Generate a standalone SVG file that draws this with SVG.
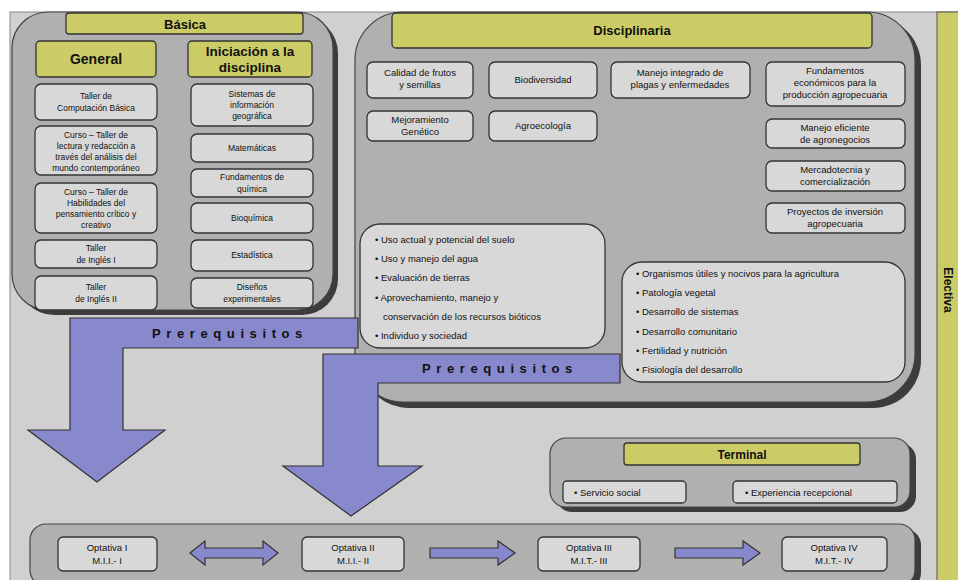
<svg xmlns="http://www.w3.org/2000/svg" width="958" height="580" viewBox="0 0 958 580">
<style>
text{font-family:"Liberation Sans",Arial,sans-serif;fill:#111;}
.panel{fill:#b0b0b0;stroke:#444;stroke-width:1.2;}
.shadow{fill:#3c3c3c;}
.hdr{fill:#cccc66;stroke:#333;stroke-width:1.3;}
.item{fill:#d8d8d8;stroke:#333;stroke-width:1.3;}
.t{font-size:9.5px;text-anchor:middle;}
.ts{font-size:8.5px;text-anchor:middle;}
.l{font-size:9.5px;}
.h{font-weight:bold;text-anchor:middle;}
.arrow{fill:#8888cc;stroke:#333;stroke-width:1.2;}
.pre{font-size:13px;font-weight:bold;letter-spacing:5.6px;text-anchor:middle;fill:#111;}
</style>
<rect x="0" y="0" width="958" height="580" fill="#ffffff"/>
<rect x="10" y="12" width="948" height="570" fill="#d0d0d0" stroke="#888" stroke-width="1"/>

<g id="electiva">
<rect x="937" y="12" width="22" height="570" fill="#cccc66" stroke="#555" stroke-width="1"/>
<text x="948" y="290" transform="rotate(90 948 290)" font-size="12" font-weight="bold" text-anchor="middle" dominant-baseline="central">Electiva</text>
</g>

<g id="basica">
<rect class="shadow" x="18" y="17" width="320" height="298" rx="36"/>
<rect class="panel" x="12" y="12" width="321" height="298" rx="36"/>
<rect class="hdr" x="66" y="13" width="237" height="21" rx="3"/>
<text class="h" x="185" y="29" font-size="13">Básica</text>
</g>

<g id="general">
<rect class="hdr" x="36" y="41" width="120" height="36" rx="4"/>
<text class="h" x="96" y="64" font-size="14">General</text>
</g>
<g id="iniciacion">
<rect class="hdr" x="188" y="41" width="124" height="36" rx="4"/>
<text class="h" x="250" y="56" font-size="13.5">Iniciación a  la</text>
<text class="h" x="250" y="72" font-size="13.5">disciplina</text>
</g>

<g id="g1"><rect class="item" x="35" y="84" width="122" height="36" rx="6"/>
<text class="ts" x="96" y="99">Taller de</text><text class="ts" x="96" y="111">Computación Básica</text></g>
<g id="g2"><rect class="item" x="35" y="126" width="122" height="49" rx="6"/>
<text class="ts" x="96" y="138">Curso – Taller de</text><text class="ts" x="96" y="149">lectura y redacción a</text><text class="ts" x="96" y="160">través del análisis del</text><text class="ts" x="96" y="171">mundo contemporáneo</text></g>
<g id="g3"><rect class="item" x="35" y="183" width="122" height="50" rx="6"/>
<text class="ts" x="96" y="195">Curso – Taller de</text><text class="ts" x="96" y="206">Habilidades del</text><text class="ts" x="96" y="217">pensamiento crítico y</text><text class="ts" x="96" y="228">creativo</text></g>
<g id="g4"><rect class="item" x="35" y="240" width="122" height="28" rx="6"/>
<text class="ts" x="96" y="251">Taller</text><text class="ts" x="96" y="263">de Inglés I</text></g>
<g id="g5"><rect class="item" x="35" y="276" width="122" height="34" rx="6"/>
<text class="ts" x="96" y="290">Taller</text><text class="ts" x="96" y="302">de Inglés II</text></g>

<g id="i1"><rect class="item" x="191" y="84" width="122" height="42" rx="6"/>
<text class="ts" x="252" y="97">Sistemas de</text><text class="ts" x="252" y="108">información</text><text class="ts" x="252" y="119">geográfica</text></g>
<g id="i2"><rect class="item" x="191" y="134" width="122" height="28" rx="6"/>
<text class="ts" x="252" y="151">Matemáticas</text></g>
<g id="i3"><rect class="item" x="191" y="169" width="122" height="28" rx="6"/>
<text class="ts" x="252" y="180">Fundamentos de</text><text class="ts" x="252" y="192">química</text></g>
<g id="i4"><rect class="item" x="191" y="203" width="122" height="30" rx="6"/>
<text class="ts" x="252" y="221">Bioquímica</text></g>
<g id="i5"><rect class="item" x="191" y="240" width="122" height="31" rx="6"/>
<text class="ts" x="252" y="258">Estadística</text></g>
<g id="i6"><rect class="item" x="191" y="278" width="122" height="30" rx="6"/>
<text class="ts" x="252" y="290">Diseños</text><text class="ts" x="252" y="302">experimentales</text></g>

<g id="disciplinaria">
<rect class="shadow" x="361" y="17" width="560" height="391" rx="48"/>
<rect class="panel" x="355" y="12" width="560" height="390" rx="48"/>
<rect class="hdr" x="392" y="13" width="480" height="35" rx="4"/>
<text class="h" x="632" y="35" font-size="13">Disciplinaria</text>
</g>

<g id="d1"><rect class="item" x="367" y="62" width="106" height="36" rx="6"/>
<text class="t" x="420" y="76">Calidad de frutos</text><text class="t" x="420" y="88">y semillas</text></g>
<g id="d2"><rect class="item" x="489" y="62" width="108" height="36" rx="6"/>
<text class="t" x="543" y="83">Biodiversidad</text></g>
<g id="d3"><rect class="item" x="611" y="62" width="139" height="36" rx="6"/>
<text class="t" x="680" y="76">Manejo integrado de</text><text class="t" x="680" y="88">plagas y enfermedades</text></g>
<g id="d4"><rect class="item" x="766" y="62" width="139" height="44" rx="6"/>
<text class="t" x="835" y="74">Fundamentos</text><text class="t" x="835" y="86">económicos para la</text><text class="t" x="835" y="98">producción agropecuaria</text></g>
<g id="d5"><rect class="item" x="367" y="111" width="106" height="30" rx="6"/>
<text class="t" x="420" y="123">Mejoramiento</text><text class="t" x="420" y="135">Genético</text></g>
<g id="d6"><rect class="item" x="489" y="111" width="108" height="30" rx="6"/>
<text class="t" x="543" y="129">Agroecología</text></g>
<g id="d7"><rect class="item" x="766" y="119" width="139" height="29" rx="6"/>
<text class="t" x="835" y="131">Manejo eficiente</text><text class="t" x="835" y="143">de agronegocios</text></g>
<g id="d8"><rect class="item" x="766" y="161" width="139" height="30" rx="6"/>
<text class="t" x="835" y="173">Mercadotecnia y</text><text class="t" x="835" y="185">comercialización</text></g>
<g id="d9"><rect class="item" x="766" y="203" width="139" height="30" rx="6"/>
<text class="t" x="835" y="215">Proyectos de inversión</text><text class="t" x="835" y="227">agropecuaria</text></g>

<g id="lista1">
<rect class="item" x="360" y="224" width="245" height="124" rx="20"/>
<text class="l" x="375" y="243">• Uso actual y potencial del suelo</text>
<text class="l" x="375" y="262">• Uso y manejo del agua</text>
<text class="l" x="375" y="281">• Evaluación de tierras</text>
<text class="l" x="375" y="301">• Aprovechamiento, manejo y</text>
<text class="l" x="383" y="320">conservación de los recursos bióticos</text>
<text class="l" x="375" y="339">• Individuo y sociedad</text>
</g>

<g id="lista2">
<rect class="item" x="622" y="262" width="283" height="120" rx="20"/>
<text class="l" x="636" y="277">• Organismos útiles y nocivos para  la agricultura</text>
<text class="l" x="636" y="296">• Patología vegetal</text>
<text class="l" x="636" y="315">• Desarrollo de sistemas</text>
<text class="l" x="636" y="335">• Desarrollo comunitario</text>
<text class="l" x="636" y="354">• Fertilidad y nutrición</text>
<text class="l" x="636" y="373">• Fisiología del desarrollo</text>
</g>

<g id="terminal">
<rect class="shadow" x="556" y="443" width="360" height="69" rx="16"/>
<rect class="panel" x="550" y="438" width="360" height="69" rx="16"/>
<rect class="hdr" x="624" y="443" width="236" height="22" rx="3"/>
<text class="h" x="742" y="459" font-size="12">Terminal</text>
<rect class="item" x="563" y="481" width="123" height="22" rx="4"/>
<text class="l" x="574" y="495.5">•  Servicio social</text>
<rect class="item" x="733" y="481" width="164" height="22" rx="4"/>
<text class="l" x="745" y="495.5">• Experiencia recepcional</text>
</g>

<g id="optativas">
<rect class="shadow" x="36" y="529" width="885" height="60" rx="16"/>
<rect class="panel" x="30" y="524" width="885" height="62" rx="16"/>
</g>
<g id="o1"><rect class="item" x="58" y="537" width="99" height="34" rx="5"/>
<text class="t" x="107" y="551" font-size="10.5">Optativa I</text><text class="t" x="107" y="564">M.I.I.- I</text></g>
<g id="o2"><rect class="item" x="302" y="537" width="102" height="34" rx="5"/>
<text class="t" x="353" y="551" font-size="10.5">Optativa II</text><text class="t" x="353" y="564">M.I.I.- II</text></g>
<g id="o3"><rect class="item" x="538" y="537" width="102" height="34" rx="5"/>
<text class="t" x="589" y="551" font-size="10.5">Optativa III</text><text class="t" x="589" y="564">M.I.T.- III</text></g>
<g id="o4"><rect class="item" x="782" y="537" width="105" height="34" rx="5"/>
<text class="t" x="834" y="551" font-size="10.5">Optativa IV</text><text class="t" x="834" y="564">M.I.T.- IV</text></g>

<g id="connectors">
<polygon class="arrow" points="70,318 358,318 358,348 123,348 123,430 165,430 97,482 28,430 70,430"/>
<text class="pre" x="230" y="338">Prerequisitos</text>
<polygon class="arrow" points="323,354 620,354 620,383 378,383 378,466 422,466 351,516 283,466 323,466"/>
<text class="pre" x="500" y="373">Prerequisitos</text>
<polygon class="arrow" points="190,553 205,541 205,548 263,548 263,541 278,553 263,565 263,558 205,558 205,565"/>
<polygon class="arrow" points="430,548 498,548 498,541 515,553 498,565 498,558 430,558"/>
<polygon class="arrow" points="675,548 743,548 743,541 760,553 743,565 743,558 675,558"/>
</g>
</svg>
